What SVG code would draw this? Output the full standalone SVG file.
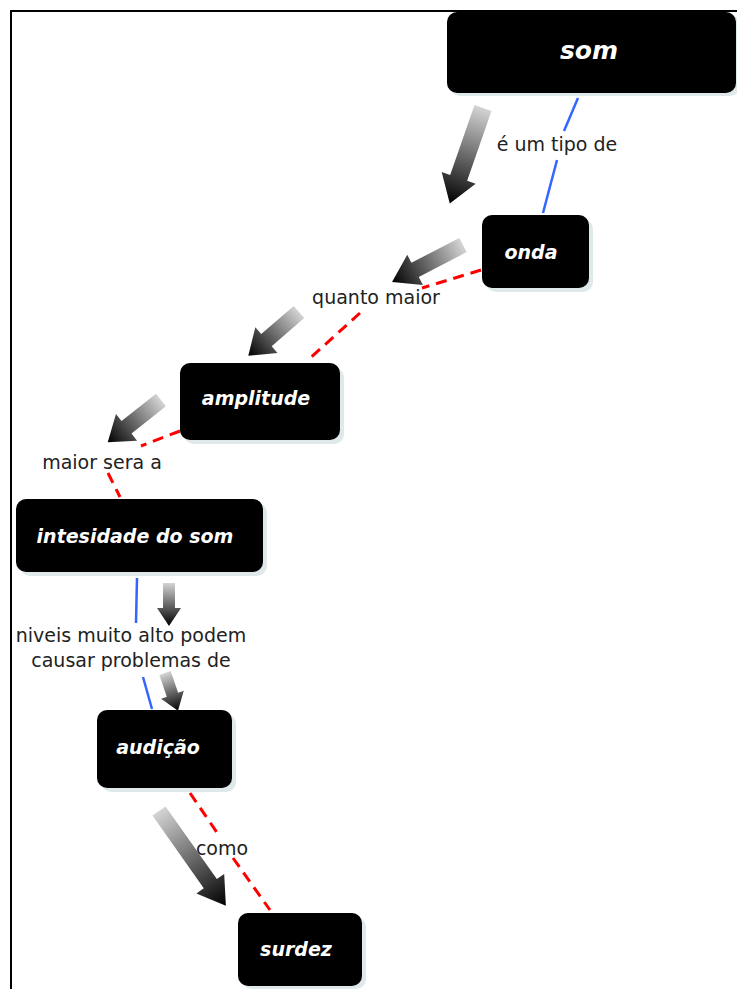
<svg xmlns="http://www.w3.org/2000/svg" width="737" height="989" viewBox="0 0 737 989">
<defs>
<linearGradient id="ag" x1="0" y1="0" x2="1" y2="0">
<stop offset="0" stop-color="#d4d4d4"/>
<stop offset="0.5" stop-color="#6a6a6a"/>
<stop offset="1" stop-color="#000"/>
</linearGradient>
</defs>
<style>
.box{fill:#000}
.shadow{fill:#dfe9ec}
.nt{font-family:"DejaVu Sans",Verdana,sans-serif;font-weight:bold;font-style:italic;fill:#fff;text-anchor:middle;font-size:19px}
.lbl{font-family:"DejaVu Sans",Verdana,sans-serif;fill:#222;text-anchor:middle;font-size:19px}
.blue{stroke:#3366ff;stroke-width:2.5;fill:none}
.red{stroke:#ff0000;stroke-width:3;fill:none;stroke-dasharray:11 7}
.arr{fill:url(#ag)}
</style>
<rect width="737" height="989" fill="#fff"/>
<path d="M11,989 V11 H737" fill="none" stroke="#000" stroke-width="2"/>

<g id="connectors">
<line class="blue" x1="578" y1="98" x2="564" y2="131"/>
<line class="blue" x1="557" y1="160" x2="543" y2="213"/>
<line class="red" x1="481" y1="270" x2="422" y2="288"/>
<line class="red" x1="360" y1="313" x2="308" y2="360"/>
<line class="red" x1="180" y1="431" x2="141" y2="446"/>
<line class="red" x1="108" y1="473" x2="120" y2="497"/>
<line class="blue" x1="137" y1="578" x2="136" y2="623"/>
<line class="blue" x1="143" y1="677" x2="152" y2="709"/>
<line class="red" x1="190" y1="793" x2="218" y2="834"/>
<line class="red" x1="233" y1="858" x2="270" y2="910"/>
<text class="lbl" x="557" y="151">é um tipo de</text>
<text class="lbl" x="376" y="304">quanto maior</text>
<text class="lbl" x="102" y="469">maior sera a</text>
<text class="lbl" x="131" y="642">niveis muito alto podem</text>
<text class="lbl" x="131" y="667">causar problemas de</text>
<text class="lbl" x="222" y="855">como</text>
</g>

<g id="decor-arrows">
<path class="arr" transform="translate(483,108) rotate(109.2)" d="M0,-9 L74,-9 L74,-18 L101,0 L74,18 L74,9 L0,9 Z"/>
<path class="arr" transform="translate(463,245) rotate(152.5)" d="M0,-8 L54,-8 L54,-17 L80,0 L54,17 L54,8 L0,8 Z"/>
<path class="arr" transform="translate(299,312) rotate(139.2)" d="M0,-8 L43,-8 L43,-17 L67,0 L43,17 L43,8 L0,8 Z"/>
<path class="arr" transform="translate(161,400) rotate(141.6)" d="M0,-8 L44,-8 L44,-17 L68,0 L44,17 L44,8 L0,8 Z"/>
<path class="arr" transform="translate(169,583) rotate(90)" d="M0,-6 L25,-6 L25,-12 L43,0 L25,12 L25,6 L0,6 Z"/>
<path class="arr" transform="translate(165,673) rotate(71.1)" d="M0,-6 L23,-6 L23,-12 L40,0 L23,12 L23,6 L0,6 Z"/>
<path class="arr" transform="translate(159,811) rotate(54.8)" d="M0,-8 L89,-8 L89,-17 L116,0 L89,17 L89,8 L0,8 Z"/>
</g>

<g id="node-som">
<rect class="shadow" x="450" y="15" width="290" height="81" rx="10"/>
<rect class="box" x="447" y="12" width="289" height="81" rx="10"/>
<text class="nt" x="589" y="59" style="font-size:25px">som</text>
</g>
<g id="node-onda">
<rect class="shadow" x="486" y="219" width="107" height="73" rx="10"/>
<rect class="box" x="482" y="215" width="107" height="73" rx="10"/>
<text class="nt" x="531" y="259">onda</text>
</g>
<g id="node-amplitude">
<rect class="shadow" x="184" y="367" width="160" height="77" rx="10"/>
<rect class="box" x="180" y="363" width="160" height="77" rx="10"/>
<text class="nt" x="256" y="405">amplitude</text>
</g>
<g id="node-intesidade">
<rect class="shadow" x="20" y="503" width="247" height="73" rx="10"/>
<rect class="box" x="16" y="499" width="247" height="73" rx="10"/>
<text class="nt" x="135" y="543">intesidade do som</text>
</g>
<g id="node-audicao">
<rect class="shadow" x="101" y="714" width="135" height="78" rx="10"/>
<rect class="box" x="97" y="710" width="135" height="78" rx="10"/>
<text class="nt" x="158" y="754">audição</text>
</g>
<g id="node-surdez">
<rect class="shadow" x="242" y="917" width="124" height="72" rx="10"/>
<rect class="box" x="238" y="913" width="124" height="73" rx="10"/>
<text class="nt" x="296" y="956">surdez</text>
</g>
</svg>
